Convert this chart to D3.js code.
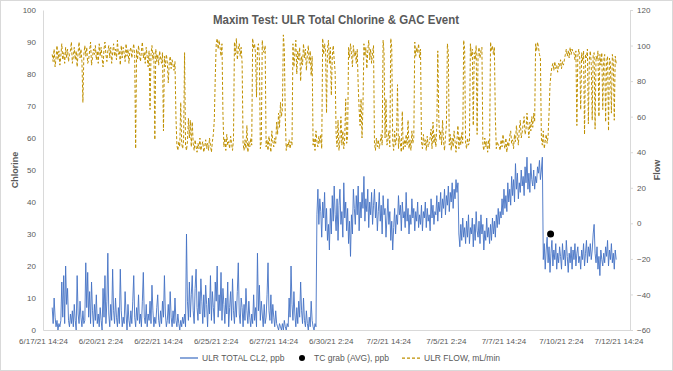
<!DOCTYPE html>
<html>
<head>
<meta charset="utf-8">
<script src="https://cdn.jsdelivr.net/npm/d3@7"></script>
<style>
  body { margin: 0; background: #fff; }
  svg { display: block; font-family: "Liberation Sans", Arial, sans-serif; }
</style>
</head>
<body>
<div id="chart"></div>
<script>
const title = "Maxim Test: ULR Total Chlorine & GAC Event";
const seriesNames = ["ULR TOTAL CL2, ppb", "TC grab (AVG), ppb", "ULR FLOW, mL/min"];
const axisTitles = ["Chlorine", "Flow"];

// hourly readings from 6/18/21 0:00
const startTime = "6/18/21 0:00";
const stepHours = 1;

const cl2Values = [
  7, 2, 10, 4, 1, 3, 0, 2, 1, 3, 15, 4, 17, 2, 20, 8, 13, 3, 1, 5, 2, 6, 1, 8,
  3, 0, 17, 5, 2, 9, 4, 1, 6, 2, 3, 21, 7, 18, 4, 12, 2, 15, 6, 1, 8, 3, 11, 2,
  5, 1, 7, 3, 0, 13, 4, 17, 2, 9, 24, 5, 1, 8, 3, 19, 6, 2, 10, 4, 1, 7, 2, 19,
  6, 1, 4, 2, 12, 5, 0, 8, 3, 1, 6, 2, 9, 17, 4, 1, 7, 3, 11, 2, 5, 1, 9, 18,
  4, 2, 8, 1, 5, 3, 9, 2, 14, 6, 1, 4, 2, 7, 11, 3, 1, 6, 2, 9, 4, 17, 5, 1,
  3, 8, 2, 12, 4, 1, 6, 2, 10, 3, 1, 5, 2, 0, 3, 1, 4, 2, 5, 1, 30, 9, 3, 15,
  4, 11, 17, 6, 2, 13, 19, 7, 3, 12, 5, 16, 9, 2, 11, 4, 14, 8, 1, 10, 5, 17, 3, 12,
  7, 2, 15, 9, 20, 4, 11, 6, 18, 3, 13, 8, 2, 10, 5, 15, 1, 7, 12, 3, 16, 6, 2, 9,
  4, 12, 21, 5, 2, 10, 7, 1, 8, 3, 13, 6, 2, 9, 4, 1, 5, 2, 11, 3, 7, 1, 24, 6,
  14, 3, 9, 5, 1, 8, 2, 4, 11, 21, 6, 3, 11, 2, 8, 4, 1, 6, 2, 1, 0, 2, 1, 0,
  2, 0, 3, 1, 0, 2, 1, 10, 4, 20, 8, 3, 12, 5, 1, 7, 2, 9, 4, 15, 6, 2, 10, 3,
  1, 6, 2, 0, 4, 1, 9, 3, 1, 0, 2, 1, 36, 44, 33, 41, 37, 29, 40, 35, 43, 31, 38, 28,
  33, 25, 38, 30, 42, 34, 45, 36, 31, 41, 28, 39, 44, 33, 37, 29, 46, 35, 40, 31, 38, 27, 34, 23,
  36, 30, 44, 38, 33, 42, 36, 45, 31, 40, 35, 43, 38, 48, 34, 41, 37, 44, 32, 40, 36, 43, 33, 39,
  44, 35, 40, 31, 37, 43, 34, 39, 30, 42, 36, 38, 29, 35, 41, 33, 37, 28, 34, 25, 32, 38, 30, 36,
  33, 42, 36, 39, 31, 40, 35, 37, 32, 43, 34, 38, 30, 36, 33, 41, 35, 38, 31, 37, 34, 40, 32, 36,
  33, 39, 31, 37, 35, 40, 32, 38, 34, 36, 31, 41, 35, 39, 33, 37, 36, 42, 34, 40, 37, 43, 35, 41,
  38, 44, 36, 42, 39, 45, 37, 43, 40, 46, 38, 44, 41, 47, 43, 46, 30, 26, 33, 28, 35, 29, 32, 27,
  34, 29, 36, 27, 32, 30, 35, 26, 33, 28, 37, 31, 29, 34, 27, 36, 30, 33, 25, 31, 28, 35, 29, 32,
  27, 33, 28, 35, 30, 34, 29, 36, 32, 38, 33, 37, 35, 41, 36, 44, 38, 42, 37, 46, 40, 44, 39, 48,
  42, 47, 40, 52, 44, 49, 41, 46, 43, 50, 45, 48, 42, 51, 46, 54, 44, 49, 43, 52, 47, 45, 50, 44,
  48, 46, 51, 49, 53, 47, 50, 54, 22, 27, 19, 25, 29, 21, 26, 18, 24, 28, 20, 25, 22, 27, 19, 24,
  21, 26, 23, 19, 27, 22, 25, 20, 28, 23, 18, 24, 21, 26, 19, 25, 22, 27, 20, 24, 26, 21, 23, 19,
  25, 22, 27, 20, 24, 28, 21, 26, 23, 27, 22, 25, 30, 33, 24, 21, 26, 19, 23, 17, 25, 22, 20, 24,
  21, 26, 23, 28, 20, 25, 22, 27, 21, 24, 19, 25, 22,
];

const flowValues = [
  95, 91, 98, 88, 93, 100, 92, 97, 89, 94, 101, 92, 96, 90, 99, 93, 98, 91, 95, 97,
  102, 90, 94, 99, 92, 97, 88, 96, 102, 93, 98, 91, 68, 95, 100, 94, 99, 90, 92, 97,
  102, 89, 93, 98, 95, 100, 92, 97, 90, 101, 94, 99, 93, 88, 98, 102, 95, 91, 97, 100,
  93, 99, 90, 96, 101, 94, 98, 92, 103, 95, 97, 89, 100, 93, 99, 96, 91, 101, 94, 98,
  90, 97,
  99, 93, 97, 101, 94, 42, 98, 92, 100, 95, 91, 97, 102, 93, 96, 90, 99, 94, 88, 97,
  64, 95, 100, 92, 96, 47, 98, 91, 95, 89, 97, 93, 90, 96, 52, 94, 88, 95, 91, 79,
  90, 94, 87, 92, 89, 86, 91,
  60, 44, 41, 46, 43, 68, 45, 42, 47, 96, 44, 41, 46, 59, 48, 58, 43, 57, 45, 41,
  47, 43, 40, 45, 42, 48, 41, 44, 46, 40, 43, 47, 42, 45, 41, 48, 44, 40, 46, 50,
  58, 82, 101, 104, 98, 103, 99, 94, 101, 62,
  43, 48, 41, 50, 44, 46, 42, 49, 45, 41, 47,
  102, 95, 104, 92, 98, 101, 94, 99, 90,
  45, 41, 47, 42, 55, 40, 46, 43, 48, 44,
  104, 98, 101, 95, 71, 99, 101, 93, 42, 46, 103, 97, 96, 100,
  43, 47, 41, 49, 44, 40, 52, 46, 43, 48, 45, 57, 50, 62, 54, 68, 60, 64,
  106, 98,
  60, 41, 45, 43, 47, 42, 46, 44,
  101, 88, 96, 103, 84, 97, 92, 99, 80, 94, 89, 101, 93, 98, 86, 95, 100, 90, 97, 83, 94,
  44, 48, 41, 52, 46, 43, 49, 45, 50, 42,
  104, 95, 101, 97, 62, 98, 103, 90, 99, 72, 94, 100, 92, 85,
  50, 43, 58, 41, 47, 60, 44, 52, 42, 48, 70, 45, 49,
  99, 93, 101, 96, 88, 100, 94, 97, 90, 98,
  78, 64, 55, 70, 48, 66,
  101, 94, 99, 87, 97, 103, 92, 98, 90, 96, 100,
  45, 41, 48, 43, 47, 42, 46, 50, 44,
  103, 96,
  48, 70, 44, 47, 52, 43,
  104, 99,
  46, 41, 52, 44, 48, 78, 42, 49, 45, 40, 63, 41, 47, 43, 50, 44, 58, 42, 47, 41, 52, 45, 48,
  102, 94, 99, 96, 101, 93, 98,
  46, 42, 50, 44, 47, 41, 49, 43, 45,
  48, 53, 42, 57, 45, 50, 43, 55, 97, 60, 47, 52, 44, 58, 46, 41, 49, 55,
  101, 96,
  44, 50, 41, 48, 43, 52, 46, 40, 47, 55, 42, 49, 44, 51, 45,
  103, 98,
  45, 42, 48, 44, 46,
  101, 94, 98, 55, 96, 92, 100, 50, 95, 99, 93, 97, 99,
  44, 41, 48, 43, 46, 40, 47, 42,
  102, 97, 100, 95,
  99, 60, 42, 46, 44,
  44, 41, 47, 43, 50, 45, 42, 48, 40, 46, 43, 49, 52, 45, 47, 42, 50, 46, 55, 49,
  44, 53, 58, 48, 51, 56, 60, 50, 53, 62, 55, 48, 57, 52, 60, 54, 62, 57,
  101, 97, 102, 99, 95, 93,
  48, 44, 52, 42, 46, 50, 45, 49,
  62, 78, 84, 88,
  90, 86, 91, 87, 89, 85, 90, 88, 92, 87, 91, 89,
  92, 95, 98, 94, 97, 93, 99, 95, 98, 96,
  96, 92, 97, 55, 94, 98, 93, 64, 96, 91, 97, 50, 95, 93, 98, 56, 92, 97, 90, 58,
  95, 96, 53, 94, 92, 97, 60, 95, 89, 96, 64, 92, 95, 57, 91, 94, 52, 93, 90, 62,
  95, 91, 58, 94, 90,
];

const grabDates = ["7/9/21 15:36"];
const grabValues = [30];

const xTickLabels = [
  "6/17/21 14:24", "6/20/21 2:24", "6/22/21 14:24", "6/25/21 2:24",
  "6/27/21 14:24", "6/30/21 2:24", "7/2/21 14:24", "7/5/21 2:24",
  "7/7/21 14:24", "7/10/21 2:24", "7/12/21 14:24",
];
const xDomainEnd = "7/13/21 2:24";
const leftTicks = [0, 10, 20, 30, 40, 50, 60, 70, 80, 90, 100];
const rightTicks = [-60, -40, -20, 0, 20, 40, 60, 80, 100, 120];

const width = 673;
const height = 371;
const plot = { left: 43, right: 630, top: 10, bottom: 330 };
const textColor = "#595959";
const gridColor = "#d9d9d9";
const blue = "#4472C4";
const gold = "#BF9000";

const parse = d3.timeParse("%m/%d/%y %H:%M");
const t0 = parse(startTime);
const dateAt = (i) => d3.timeHour.offset(t0, i * stepHours);
const xTicks = xTickLabels.map(parse);

const x = d3
  .scaleTime()
  .domain([xTicks[0], parse(xDomainEnd)])
  .range([plot.left, plot.right]);
const yLeft = d3.scaleLinear().domain([0, 100]).range([plot.bottom, plot.top]);
const yRight = d3.scaleLinear().domain([-60, 120]).range([plot.bottom, plot.top]);

const svg = d3
  .select("#chart")
  .append("svg")
  .attr("width", width)
  .attr("height", height);

svg
  .append("rect")
  .attr("x", 0.5)
  .attr("y", 0.5)
  .attr("width", width - 1)
  .attr("height", height - 1)
  .attr("fill", "#fff")
  .attr("stroke", gridColor);

const styleAxis = (g) => {
  g.select(".domain").attr("stroke", gridColor);
  g.selectAll(".tick line").attr("stroke", gridColor);
  g.selectAll(".tick text")
    .attr("fill", textColor)
    .style("font-size", "8px");
};

svg
  .append("g")
  .attr("transform", `translate(0,${plot.bottom})`)
  .call(
    d3
      .axisBottom(x)
      .tickValues(xTicks)
      .tickFormat(d3.timeFormat("%-m/%-d/%y %-H:%M"))
      .tickSize(0)
      .tickPadding(8)
  )
  .call(styleAxis);

svg
  .append("g")
  .attr("transform", `translate(${plot.left},0)`)
  .call(d3.axisLeft(yLeft).tickValues(leftTicks).tickSize(0).tickPadding(7))
  .call(styleAxis);

svg
  .append("g")
  .attr("transform", `translate(${plot.right},0)`)
  .call(
    d3.axisRight(yRight).tickValues(rightTicks).tickSize(3).tickSizeOuter(0).tickPadding(4)
  )
  .call(styleAxis);

const cl2Line = d3
  .line()
  .x((d, i) => x(dateAt(i)))
  .y((d) => yLeft(d));

const flowLine = d3
  .line()
  .x((d, i) => x(dateAt(i)))
  .y((d) => yRight(d));

svg
  .append("path")
  .datum(cl2Values)
  .attr("fill", "none")
  .attr("stroke", blue)
  .attr("stroke-width", 0.9)
  .attr("d", cl2Line);

svg
  .append("path")
  .datum(flowValues)
  .attr("fill", "none")
  .attr("stroke", gold)
  .attr("stroke-width", 1)
  .attr("stroke-dasharray", "3,2")
  .attr("d", flowLine);

svg
  .append("g")
  .selectAll("circle")
  .data(grabValues)
  .join("circle")
  .attr("cx", (d, i) => x(parse(grabDates[i])))
  .attr("cy", (d) => yLeft(d))
  .attr("r", 3.5)
  .attr("fill", "#000");

svg
  .append("text")
  .attr("x", 336)
  .attr("y", 24)
  .attr("text-anchor", "middle")
  .attr("fill", textColor)
  .attr("font-weight", "bold")
  .attr("textLength", 246)
  .attr("lengthAdjust", "spacingAndGlyphs")
  .style("font-size", "13px")
  .text(title);

svg
  .selectAll(".axis-title")
  .data(axisTitles)
  .join("text")
  .attr("class", "axis-title")
  .attr("text-anchor", "middle")
  .attr("fill", textColor)
  .attr("font-weight", "bold")
  .style("font-size", "9px")
  .attr("transform", (d, i) => `translate(${i === 0 ? 18 : 660},170)rotate(-90)`)
  .text((d) => d);

const legend = svg.append("g").attr("transform", "translate(0,358)");

legend
  .append("line")
  .attr("x1", 180)
  .attr("x2", 198)
  .attr("stroke", blue)
  .attr("stroke-width", 1.25);

legend
  .append("circle")
  .attr("cx", 302)
  .attr("r", 3)
  .attr("fill", "#000");

legend
  .append("line")
  .attr("x1", 402)
  .attr("x2", 420)
  .attr("stroke", gold)
  .attr("stroke-width", 1.25)
  .attr("stroke-dasharray", "3,2");

legend
  .selectAll("text")
  .data(seriesNames)
  .join("text")
  .attr("x", (d, i) => [202, 314, 424][i])
  .attr("dy", "0.35em")
  .attr("fill", textColor)
  .style("font-size", "8.5px")
  .text((d) => d);
</script>
</body>
</html>
